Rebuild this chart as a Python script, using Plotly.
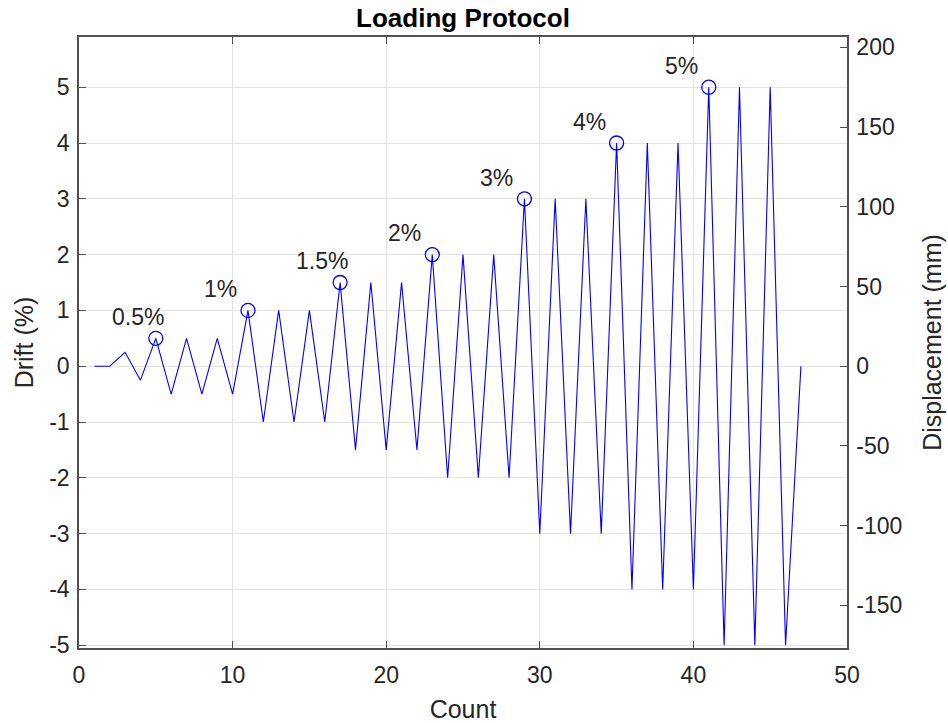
import plotly.graph_objects as go

# Data
count = list(range(1, 48))
drift = [0, 0, 0.25, -0.25,
         0.5, -0.5, 0.5, -0.5, 0.5, -0.5,
         1, -1, 1, -1, 1, -1,
         1.5, -1.5, 1.5, -1.5, 1.5, -1.5,
         2, -2, 2, -2, 2, -2,
         3, -3, 3, -3, 3, -3,
         4, -4, 4, -4, 4, -4,
         5, -5, 5, -5, 5, -5,
         0]
mm_per_percent = 35  # displacement (mm) per 1 % drift

peak_count = [5, 11, 17, 23, 29, 35, 41]
peak_drift = [0.5, 1, 1.5, 2, 3, 4, 5]
peak_label = ["0.5%", "1%", "1.5%", "2%", "3%", "4%", "5%"]

x_ticks = [0, 10, 20, 30, 40, 50]
y_ticks = [-5, -4, -3, -2, -1, 0, 1, 2, 3, 4, 5]
y2_ticks = [-150, -100, -50, 0, 50, 100, 150, 200]

y_range = [-5.05, 5.9]

font_family = "Liberation Sans, Arial, Helvetica, sans-serif"
txt = "#262626"
axc = "#505050"

fig = go.Figure()
fig.add_trace(go.Scatter(x=count, y=drift, mode="lines",
                         line=dict(color="rgb(0,0,255)", width=1.1),
                         hoverinfo="skip", showlegend=False))
fig.add_trace(go.Scatter(x=peak_count, y=peak_drift, mode="markers",
                         marker=dict(symbol="circle-open", size=14,
                                     color="rgb(0,0,255)", line=dict(width=1.3)),
                         showlegend=False))
# invisible trace on right axis
fig.add_trace(go.Scatter(x=count, y=[d * mm_per_percent for d in drift],
                         yaxis="y2", mode="lines", line=dict(width=0),
                         opacity=0, hoverinfo="skip", showlegend=False))

for c, d, lab in zip(peak_count, peak_drift, peak_label):
    fig.add_annotation(x=c - 3, y=d + 0.38, text=lab, showarrow=False,
                       xanchor="left", yanchor="middle",
                       font=dict(size=23, color=txt, family=font_family))

fig.update_layout(
    width=948, height=723,
    margin=dict(l=79, r=101, t=37, b=75),
    paper_bgcolor="white", plot_bgcolor="white",
    font=dict(family=font_family, color=txt, size=22),
    title=dict(text="<b>Loading Protocol</b>", x=0.5, xref="paper",
               xanchor="center", y=1 - 18 / 723, yref="container", yanchor="middle",
               font=dict(size=26, color="black")),
    xaxis=dict(range=[0, 50], tickvals=x_ticks, showgrid=True,
               gridcolor="#e3e3e3", gridwidth=1, zeroline=False,
               showline=True, linecolor=axc, linewidth=1.5, mirror="ticks",
               ticks="inside", ticklen=7, tickcolor=axc, automargin=False,
               ticklabelstandoff=6,
               tickfont=dict(size=23, color=txt),
               title=dict(text="Count", font=dict(size=25, color=txt), standoff=14)),
    yaxis=dict(range=y_range, tickvals=y_ticks,
               ticktext=[str(v).replace("−", "-") for v in y_ticks],
               showgrid=True,
               gridcolor="#e3e3e3", gridwidth=1, zeroline=False,
               showline=True, linecolor=axc, linewidth=1.5, mirror=False,
               ticks="inside", ticklen=7, tickcolor=axc, automargin=False,
               ticklabelstandoff=3,
               tickfont=dict(size=23, color=txt),
               title=dict(text="Drift (%)", font=dict(size=25, color=txt), standoff=8)),
    yaxis2=dict(range=[y_range[0] * mm_per_percent, y_range[1] * mm_per_percent],
                tickvals=y2_ticks, ticktext=[str(v) for v in y2_ticks],
                overlaying="y", side="right",
                showgrid=False, zeroline=False,
                showline=True, linecolor=axc, linewidth=1.5,
                ticks="inside", ticklen=7, tickcolor=axc, automargin=False,
                ticklabelstandoff=3,
                tickfont=dict(size=23, color=txt),
                title=dict(text="Displacement (mm)", font=dict(size=25, color=txt), standoff=22)),
)

fig.write_html("out.html",
               config={"displayModeBar": False},
               post_script="document.body.style.margin='0';document.body.style.padding='0';")
